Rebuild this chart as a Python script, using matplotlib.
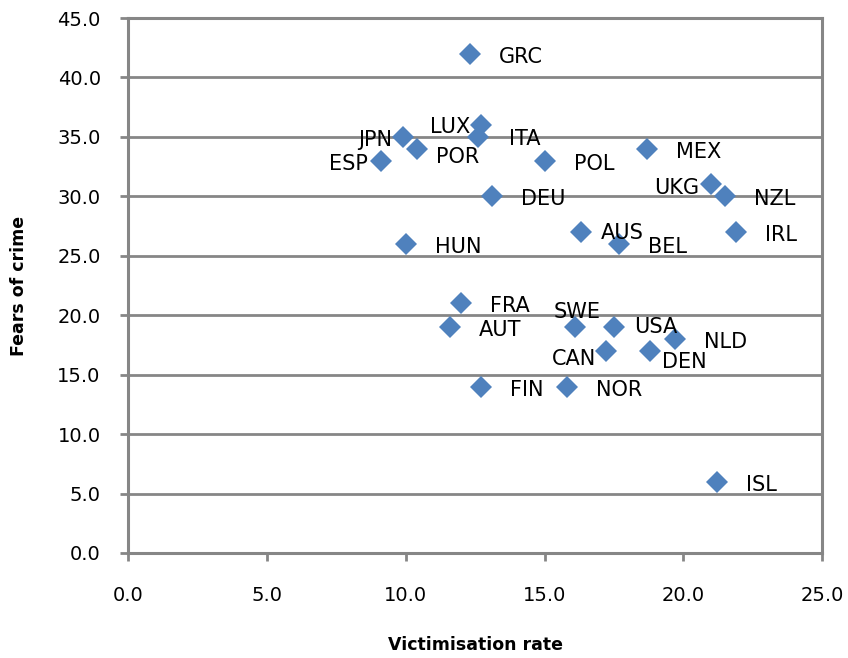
import matplotlib
matplotlib.use("Agg")
import matplotlib.pyplot as plt

# countries, victimisation rate (x) and fear of crime (y)
countries = ["GRC", "LUX", "ITA", "JPN", "POR", "ESP", "POL", "DEU", "HUN",
             "AUS", "BEL", "MEX", "UKG", "NZL", "IRL", "FRA", "SWE", "AUT",
             "USA", "NLD", "CAN", "DEN", "FIN", "NOR", "ISL"]
victim = [12.3, 12.7, 12.6, 9.9, 10.4, 9.1, 15.0, 13.1, 10.0,
          16.3, 17.7, 18.7, 21.0, 21.5, 21.9, 12.0, 16.1, 11.6,
          17.5, 19.7, 17.2, 18.8, 12.7, 15.8, 21.2]
fear = [42, 36, 35, 35, 34, 33, 33, 30, 26,
        27, 26, 34, 31, 30, 27, 21, 19, 19,
        19, 18, 17, 17, 14, 14, 6]

# label placement (pixels from the marker): dx, dy, alignment
label_pos = {
    "LUX": (-11, -2, "right"), "JPN": (-11, -3, "right"), "ESP": (-13, -3, "right"),
    "UKG": (-12, -4, "right"), "CAN": (-9, -8, "right"), "SWE": (2, 15, "center"),
    "POR": (19, -8, "left"), "AUS": (20, -1, "left"), "USA": (20, 0, "left"),
    "DEN": (12, -11, "left"), "ITA": (31, -2, "left"),
}

grey = "#868686"
blue = "#4F81BD"

fig = plt.figure(figsize=(8.48, 6.58), dpi=100)
ax = fig.add_axes([0.1515, 0.1596, 0.8178, 0.813])

ax.plot(victim, fear, linestyle="none", marker="D", markersize=11.5,
        color=blue, markeredgewidth=0, zorder=3)

for c, x, y in zip(countries, victim, fear):
    dx, dy, ha = label_pos.get(c, (29, -3, "left"))
    ax.annotate(c, (x, y), xytext=(dx, dy), textcoords="offset pixels",
                ha=ha, va="center", fontsize=15, color="black", zorder=4)

ax.set_xlim(0, 25)
ax.set_ylim(0, 45)
ax.set_xticks([0, 5, 10, 15, 20, 25])
ax.set_yticks(range(0, 46, 5))
ax.set_xticklabels([f"{v:.1f}" for v in ax.get_xticks()])
ax.set_yticklabels([f"{v:.1f}" for v in ax.get_yticks()])

ax.yaxis.grid(True, color=grey, linewidth=2)
ax.set_axisbelow(True)
for s in ax.spines.values():
    s.set_color(grey)
    s.set_linewidth(2.2)
ax.tick_params(axis="both", color=grey, width=2, length=6, labelsize=14)
ax.tick_params(axis="x", pad=18)
ax.tick_params(axis="y", pad=14)

ax.set_xlabel("Victimisation rate", fontsize=12.5, fontweight="bold",
              labelpad=22)
ax.set_ylabel("Fears of crime", fontsize=12.5, fontweight="bold",
              labelpad=21)

fig.savefig("out.png", dpi=100)
